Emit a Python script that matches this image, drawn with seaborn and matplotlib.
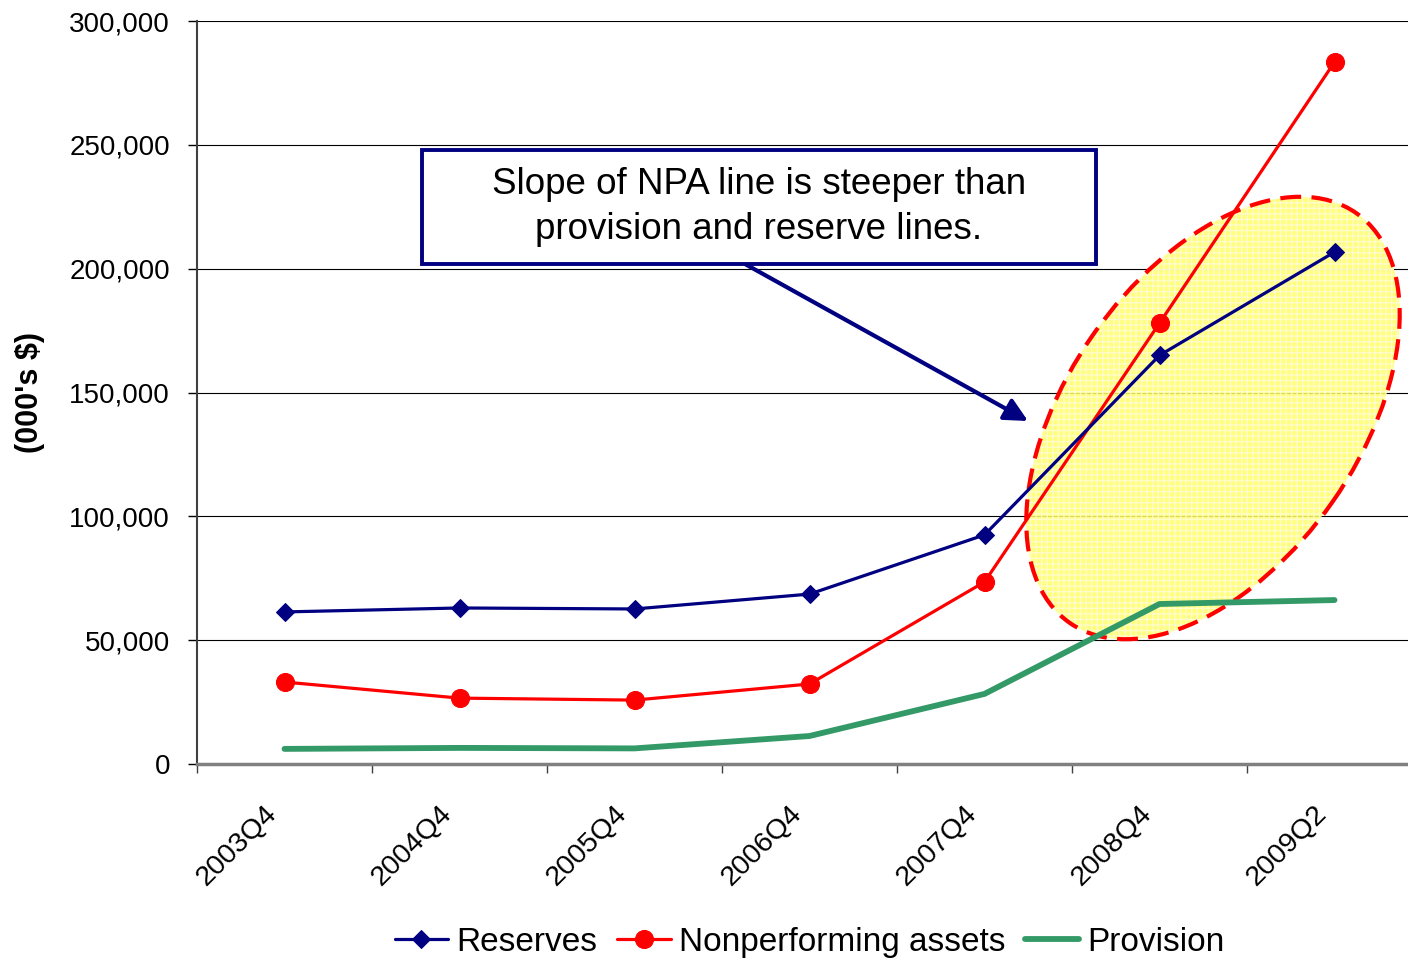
import numpy as np
import pandas as pd
import matplotlib
matplotlib.use("Agg")
import matplotlib.pyplot as plt
import matplotlib.transforms as mtransforms
from matplotlib.patches import Ellipse, Rectangle
from matplotlib.ticker import FuncFormatter
import seaborn as sns

# data (000's $)
quarters = ['2003Q4', '2004Q4', '2005Q4', '2006Q4', '2007Q4', '2008Q4', '2009Q2']
reserves = [61400, 63000, 62600, 68600, 92500, 165000, 206700]
npa = [33100, 26600, 25800, 32300, 73500, 178000, 283400]
provision = [6100, 6500, 6300, 11300, 28300, 64600, 66200]

sns.set_style("white")
plt.rcParams['font.family'] = ['Liberation Sans', 'DejaVu Sans']
plt.rcParams['text.color'] = 'black'
plt.rcParams['axes.labelcolor'] = 'black'
plt.rcParams['xtick.color'] = 'black'
plt.rcParams['ytick.color'] = 'black'

fig = plt.figure(figsize=(14.08, 9.6), dpi=100)
ax = fig.add_axes([197/1408, 196/960, 1225/1408, 743/960])

navy = '#000080'
red = '#ff0000'
green = '#339966'

sns.lineplot(x=quarters, y=reserves, ax=ax, color=navy, linewidth=2.3,
             marker='D', markersize=9.5, markeredgecolor=navy, label='Reserves', zorder=4)
sns.lineplot(x=quarters, y=npa, ax=ax, color=red, linewidth=2.3,
             marker='o', markersize=13, markeredgecolor=red, label='Nonperforming assets', zorder=3)
sns.lineplot(x=quarters, y=provision, ax=ax, color=green, linewidth=4.2,
             solid_capstyle='round', label='Provision', zorder=2)

ax.set_xlim(-0.5, 6.5)
ax.set_ylim(0, 300000)
ax.set_yticks(np.arange(0, 300001, 50000))
ax.yaxis.set_major_formatter(FuncFormatter(lambda v, p: f'{v:,.0f}'))
ax.set_xticks(range(len(quarters)))
ax.set_xticklabels(quarters, rotation=45, ha='right', va='center', rotation_mode='anchor')
ax.set_xticks(np.arange(-0.5, 7, 1), minor=True)

ax.tick_params(axis='y', length=6.5, width=1, direction='out', color='black',
               labelsize=20, pad=13, left=True)
ax.tick_params(axis='x', which='major', length=0, labelsize=20.5, pad=33)
ax.tick_params(axis='x', which='minor', length=6.5, width=1, color='#404040',
               direction='out', bottom=True)

# nudge the slanted labels a bit to the left, like the original
shift = mtransforms.ScaledTranslation(-12/100, 0, fig.dpi_scale_trans)
for lbl in ax.get_xticklabels():
    lbl.set_transform(lbl.get_transform() + shift)

ax.set_axisbelow(True)
ax.yaxis.grid(True, color='black', linewidth=0.8)
ax.xaxis.grid(False)
for s in ['top', 'right']:
    ax.spines[s].set_visible(False)
ax.spines['left'].set_color('#404040')
ax.spines['left'].set_linewidth(1.5)
ax.spines['bottom'].set_color('#808080')
ax.spines['bottom'].set_linewidth(2.5)

ax.set_xlabel('')
ax.set_ylabel("(000's $)", fontsize=22, fontweight='bold')
ax.yaxis.set_label_coords(-0.124, 0.5)

# highlight ellipse
tr = fig.dpi_scale_trans
fill = Ellipse((12.13, 5.42), width=5.0, height=2.92, angle=55, transform=tr,
               facecolor='#ffff66', edgecolor='#fffbd8', linewidth=0, hatch='+++',
               alpha=0.85, zorder=1, clip_on=False)
ax.add_artist(fill)
outline = Ellipse((12.13, 5.42), width=5.0, height=2.92, angle=55, transform=tr,
                  fill=False, edgecolor=red, linewidth=3, linestyle=(0, (5, 2.5)),
                  zorder=1.5, clip_on=False)
ax.add_artist(outline)

# callout box and arrow
ax.annotate('', xy=(10.28, 5.39), xytext=(7.45, 6.96), xycoords=tr, textcoords=tr,
            arrowprops=dict(arrowstyle='-|>', color=navy, lw=3, mutation_scale=35,
                            shrinkA=0, shrinkB=0), zorder=5, annotation_clip=False)
box = Rectangle((4.22, 6.96), 6.74, 1.14, transform=tr, facecolor='white',
                edgecolor=navy, linewidth=2.8, zorder=6, clip_on=False)
ax.add_artist(box)
ax.text(7.59, 7.53, 'Slope of NPA line is steeper than\nprovision and reserve lines.',
        transform=tr, ha='center', va='center', fontsize=26.5, linespacing=1.4,
        zorder=7)

ax.legend(loc='center', bbox_to_anchor=(0.5, -0.24), ncol=3, frameon=False,
          fontsize=24, handlelength=1.6, handletextpad=0.25, columnspacing=0.6)

fig.savefig('out.png', dpi=100)
